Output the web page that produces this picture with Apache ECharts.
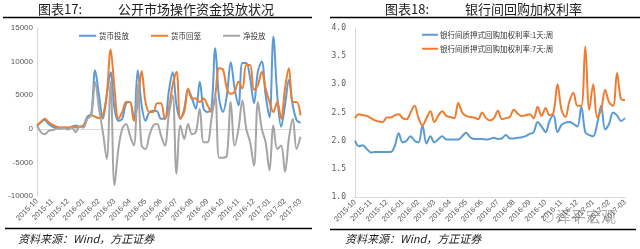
<!DOCTYPE html>
<html><head><meta charset="utf-8">
<script src="https://cdn.jsdelivr.net/npm/echarts@6/dist/echarts.min.js"></script>
<style>html,body{margin:0;padding:0;background:#fff}#c{width:640px;height:249px}</style>
</head><body><div id="c"></div>
<script>
// ---- data ----
const months = ['2015-10','2015-11','2015-12','2016-01','2016-02','2016-03','2016-04','2016-05','2016-06','2016-07','2016-08','2016-09','2016-10','2016-11','2016-12','2017-01','2017-02','2017-03'];
const seriesNamesLeft = ['货币投放','货币回笼','净投放'];
const seriesNamesRight = ['银行间质押式回购加权利率:1天:周','银行间质押式回购加权利率:7天:周'];
// weekly values (4 per month)
const injection = [500,1000,1300,700,300,200,100,200,100,300,500,300,500,1800,2200,8700,5000,1500,5000,8400,3000,1200,1500,3800,4000,1300,8700,3500,1200,2500,2700,2600,1500,1500,5500,8400,3500,1500,3000,5900,4500,3000,7000,3000,2500,3000,12000,4500,2500,5000,9900,6000,3500,9800,9800,7500,3800,8500,10000,5000,1700,13700,5000,300,3500,7300,3500,1300,900];
const withdrawal = [500,1000,1500,1000,600,300,200,200,200,300,200,300,500,1500,2000,1800,1600,2000,5000,11800,6000,1500,2500,4000,4000,1200,4000,8600,4000,2500,2500,3800,3800,1500,3000,6500,8500,1500,2500,6000,4500,4500,4000,4500,3500,2500,5000,9000,8800,6000,5200,5500,7000,6000,9500,9500,5800,6500,8500,6000,4000,2500,4000,1500,6000,9000,4000,4000,2000];
const netInjection = [500,-500,-800,-300,-200,0,0,100,-100,200,-500,300,200,1500,2000,7000,3000,-500,-4500,7000,-8400,-3000,0,700,-1000,-2500,6500,-2500,-3000,-1000,500,700,-1000,-2500,2000,5000,-6700,500,-1500,700,-800,-500,3000,-2000,-2000,1500,5000,-4300,-4300,-4000,4000,-2500,0,4200,0,-2000,-5500,4000,0,-2000,-6200,500,-3000,-2500,-6400,-1500,1500,-3000,-1200];
const repo1d = [2.00,1.90,1.92,1.85,1.79,1.80,1.80,1.80,1.80,1.80,1.90,2.13,1.97,2.00,2.08,2.00,1.97,2.27,1.95,2.08,1.97,2.03,2.08,2.02,2.02,2.02,2.02,2.08,2.14,2.06,2.03,2.03,2.03,2.02,2.03,2.05,2.03,2.04,2.10,2.04,2.04,2.05,2.06,2.08,2.12,2.15,2.33,2.25,2.15,2.35,2.45,2.15,2.28,2.32,2.33,2.30,2.25,2.60,2.15,2.10,2.08,2.30,2.62,2.20,2.30,2.50,2.45,2.35,2.40];
const repo7d = [2.40,2.47,2.45,2.44,2.40,2.36,2.34,2.33,2.41,2.41,2.45,2.47,2.40,2.38,2.50,2.62,2.40,2.27,2.40,2.52,2.33,2.45,2.52,2.44,2.42,2.40,2.67,2.50,2.44,2.42,2.41,2.38,2.50,2.40,2.36,2.40,2.53,2.38,2.40,2.42,2.55,2.48,2.44,2.45,2.47,2.40,2.60,2.44,2.58,2.45,2.50,3.00,2.55,2.42,2.70,2.85,2.62,2.62,3.67,2.55,3.00,2.41,2.55,2.90,2.68,2.62,3.20,2.74,2.72];
const leftTicks = {min:-10000,max:15000,interval:5000};
const rightTicks = {min:1.0,max:4.0,interval:0.5};

// build weekly categories (4 per month, last month single point)
const weeks = [];
months.forEach((m,k)=>{const n = k<months.length-1?4:1; for(let w=1;w<=n;w++) weeks.push(m+'/'+w);});

const FONT = '"Noto Sans CJK SC","Liberation Sans",sans-serif';
const BLUE='#5B9BD5', ORANGE='#ED7D31', GRAY='#A5A5A5', AX='#D9D9D9', TXT='#595959';

function xAx(gi){
  return {type:'category',gridIndex:gi,data:weeks,boundaryGap:false,
    axisLine:{show:gi===1,onZero:false,lineStyle:{color:AX}},axisTick:{show:false},
    axisLabel:{interval:(i)=>i%4===0,formatter:v=>v.split('/')[0],rotate:45,fontSize:7.5,color:TXT,margin:4,fontFamily:'"Liberation Sans",sans-serif'},
    splitLine:{show:false}};
}
const chart = echarts.init(document.getElementById('c'),null,{renderer:'canvas'});
const lineS = (name,data,color,xi,yi)=>({name,type:'line',data,xAxisIndex:xi,yAxisIndex:yi,smooth:0.35,symbol:'none',
  lineStyle:{color,width:2},itemStyle:{color},animation:false});

chart.setOption({
  animation:false,
  grid:[{left:37,top:28,width:263.5,height:168},{left:355,top:28,width:270,height:169}],
  xAxis:[xAx(0),xAx(1),
    {type:'category',gridIndex:0,data:weeks,boundaryGap:false,axisLine:{show:true,onZero:true,lineStyle:{color:AX}},axisTick:{show:false},axisLabel:{show:false},splitLine:{show:false}}],
  yAxis:[
    {type:'value',gridIndex:0,min:leftTicks.min,max:leftTicks.max,interval:leftTicks.interval,
     axisLine:{show:true,lineStyle:{color:AX}},axisTick:{show:false},splitLine:{show:false},
     axisLabel:{fontSize:8,color:TXT,margin:4,formatter:v=>String(v),fontFamily:'"Liberation Sans",sans-serif'}},
    {type:'value',gridIndex:1,min:rightTicks.min,max:rightTicks.max,interval:rightTicks.interval,
     axisLine:{show:true,lineStyle:{color:AX}},axisTick:{show:false},splitLine:{show:false},
     axisLabel:{fontSize:8,color:TXT,margin:9,formatter:v=>v.toFixed(1),fontFamily:'"DejaVu Sans Mono",monospace'}}
  ],
  legend:[
    {data:seriesNamesLeft,left:74,top:27,itemWidth:17,itemHeight:2,itemGap:22,icon:'rect',
     textStyle:{fontSize:7.5,color:'#333',fontFamily:FONT,padding:[0,0,0,-2]}},
    {data:seriesNamesRight,left:417,top:26,orient:'vertical',itemWidth:16,itemHeight:2,itemGap:6.5,icon:'rect',
     textStyle:{fontSize:7.5,color:'#333',fontFamily:FONT,padding:[0,0,0,-3]}}
  ],
  series:[
    lineS(seriesNamesLeft[0],injection,BLUE,0,0),
    lineS(seriesNamesLeft[1],withdrawal,ORANGE,0,0),
    lineS(seriesNamesLeft[2],netInjection,GRAY,0,0),
    lineS(seriesNamesRight[0],repo1d,BLUE,1,1),
    lineS(seriesNamesRight[1],repo7d,ORANGE,1,1)
  ],
  graphic:[
    {type:'text',left:38,top:3,style:{text:'图表17:',font:'13px '+FONT,fill:'#222'}},
    {type:'text',left:118,top:3,style:{text:'公开市场操作资金投放状况',font:'13px '+FONT,fill:'#222'}},
    {type:'line',shape:{x1:3,y1:17.5,x2:312,y2:17.5},style:{stroke:'#000',lineWidth:1.6}},
    {type:'line',shape:{x1:5,y1:228.5,x2:312,y2:228.5},style:{stroke:'#000',lineWidth:1.6}},
    {type:'text',left:18,top:233,style:{text:'资料来源：Wind，方正证券',font:'italic 11px '+FONT,fill:'#222'}},
    {type:'text',left:385,top:3,style:{text:'图表18:',font:'13px '+FONT,fill:'#222'}},
    {type:'text',left:465,top:3,style:{text:'银行间回购加权利率',font:'13px '+FONT,fill:'#222'}},
    {type:'line',shape:{x1:330,y1:17.5,x2:640,y2:17.5},style:{stroke:'#000',lineWidth:1.6}},
    {type:'line',shape:{x1:330,y1:229.5,x2:636,y2:229.5},style:{stroke:'#000',lineWidth:1.6}},
    {type:'text',left:345,top:233,style:{text:'资料来源：Wind，方正证券',font:'italic 11px '+FONT,fill:'#222'}},
    {type:'text',left:556,top:209,style:{text:'泽平宏观',font:'15px '+FONT,fill:'rgba(110,110,110,0.55)'}},
    {type:'circle',shape:{cx:548,cy:217,r:5},style:{fill:'none',stroke:'rgba(110,110,110,0.5)',lineWidth:1}}
  ]
});
</script></body></html>
